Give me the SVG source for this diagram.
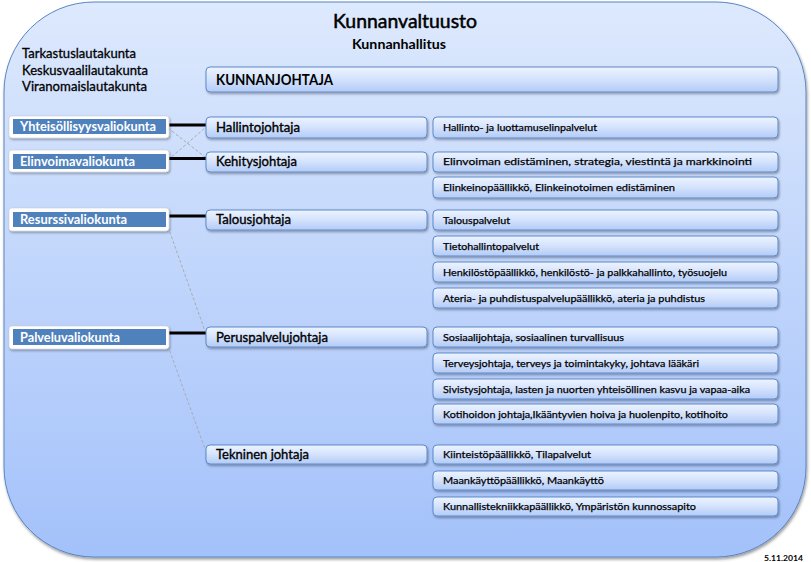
<svg xmlns="http://www.w3.org/2000/svg" width="811" height="562" viewBox="0 0 811 562">
<defs>
<linearGradient id="bg" x1="0" y1="0" x2="0" y2="1">
<stop offset="0" stop-color="#dde9fd"/>
<stop offset="1" stop-color="#a3c1fa"/>
</linearGradient>
<linearGradient id="box" x1="0" y1="0" x2="0" y2="1">
<stop offset="0" stop-color="#eef4ff"/>
<stop offset="0.5" stop-color="#d3e2fd"/>
<stop offset="1" stop-color="#b3cbf6"/>
</linearGradient>
<filter id="sh" x="-5%" y="-20%" width="115%" height="160%">
<feDropShadow dx="1" dy="1.5" stdDeviation="0.8" flood-color="#000" flood-opacity="0.35"/>
</filter>
<filter id="shbig" x="-2%" y="-2%" width="105%" height="105%">
<feDropShadow dx="1" dy="2" stdDeviation="1.5" flood-color="#000" flood-opacity="0.4"/>
</filter>
<style>
text{font-family:Lato,"Open Sans","Liberation Sans",sans-serif;fill:#000}
.b{fill:url(#box);stroke:#5f8ac8;stroke-width:1;filter:url(#sh)}
.svc{font-size:10px;stroke:#000;stroke-width:0.25}
.dir{font-size:13px;stroke:#000;stroke-width:0.35}
.lt{font-size:13px;stroke:#000;stroke-width:0.3}
.cw{fill:#fff;stroke:#c8cfd8;stroke-width:0.6;filter:url(#sh)}
.cb{fill:#4f81bd}
.ct{font-size:12.5px;font-weight:bold;fill:#fff}
.thick{stroke:#000;stroke-width:3;fill:none}
.dash{stroke:#a8acb2;stroke-width:1;stroke-dasharray:3 2;fill:none}
</style>
</defs>

<g id="kunnanvaltuusto">
<rect x="4" y="2" width="802" height="555" rx="90" ry="90" fill="url(#bg)" stroke="#5a85c3" stroke-width="1" filter="url(#shbig)"/>
<text x="405" y="28" text-anchor="middle" font-size="19" stroke="#000" stroke-width="0.5" textLength="144" lengthAdjust="spacingAndGlyphs">Kunnanvaltuusto</text>
<text x="399" y="49" text-anchor="middle" font-size="13.5" font-weight="bold" textLength="94" lengthAdjust="spacingAndGlyphs">Kunnanhallitus</text>
</g>

<g id="lautakunnat">
<text class="lt" x="22" y="58" textLength="114" lengthAdjust="spacingAndGlyphs">Tarkastuslautakunta</text>
<text class="lt" x="22" y="75" textLength="126" lengthAdjust="spacingAndGlyphs">Keskusvaalilautakunta</text>
<text class="lt" x="22" y="91" textLength="125" lengthAdjust="spacingAndGlyphs">Viranomaislautakunta</text>
</g>

<g id="connectors">
<line class="dash" x1="168" y1="128" x2="205" y2="157"/>
<line class="dash" x1="168" y1="160" x2="205" y2="128"/>
<line class="dash" x1="168" y1="227" x2="205" y2="331"/>
<line class="dash" x1="168" y1="346" x2="205" y2="449"/>
<line class="thick" x1="166" y1="125" x2="207" y2="125"/>
<line class="thick" x1="166" y1="158.5" x2="207" y2="158.5"/>
<line class="thick" x1="166" y1="216" x2="207" y2="216"/>
<line class="thick" x1="166" y1="333" x2="207" y2="333"/>
</g>

<g id="kunnanjohtaja">
<rect class="b" x="206" y="67" width="572" height="25" rx="4"/>
<text x="216" y="85" font-size="15" font-weight="bold" textLength="117" lengthAdjust="spacingAndGlyphs">KUNNANJOHTAJA</text>
</g>

<g id="yhteisollisyysvaliokunta">
<rect class="cw" x="9" y="116" width="160" height="22" rx="3"/>
<rect class="cb" x="13" y="119" width="153" height="15"/>
<text class="ct" x="20" y="131" textLength="136" lengthAdjust="spacingAndGlyphs">Yhteisöllisyysvaliokunta</text>
</g>
<g id="elinvoimavaliokunta">
<rect class="cw" x="9" y="150" width="160" height="22" rx="3"/>
<rect class="cb" x="13" y="154" width="153" height="15"/>
<text class="ct" x="20" y="166" textLength="115" lengthAdjust="spacingAndGlyphs">Elinvoimavaliokunta</text>
</g>
<g id="resurssivaliokunta">
<rect class="cw" x="9" y="208" width="160" height="23" rx="3"/>
<rect class="cb" x="13" y="212" width="153" height="15"/>
<text class="ct" x="20" y="224" textLength="107" lengthAdjust="spacingAndGlyphs">Resurssivaliokunta</text>
</g>
<g id="palveluvaliokunta">
<rect class="cw" x="9" y="326" width="160" height="23" rx="3"/>
<rect class="cb" x="13" y="329" width="153" height="16"/>
<text class="ct" x="20" y="342" textLength="100" lengthAdjust="spacingAndGlyphs">Palveluvaliokunta</text>
</g>

<g id="hallintojohtaja">
<rect class="b" x="206" y="117" width="221" height="21" rx="4"/>
<text class="dir" x="216" y="132" textLength="84" lengthAdjust="spacingAndGlyphs">Hallintojohtaja</text>
</g>
<g id="kehitysjohtaja">
<rect class="b" x="206" y="152" width="221" height="20" rx="4"/>
<text class="dir" x="216" y="166" textLength="81" lengthAdjust="spacingAndGlyphs">Kehitysjohtaja</text>
</g>
<g id="talousjohtaja">
<rect class="b" x="206" y="210" width="221" height="20" rx="4"/>
<text class="dir" x="216" y="224" textLength="75" lengthAdjust="spacingAndGlyphs">Talousjohtaja</text>
</g>
<g id="peruspalvelujohtaja">
<rect class="b" x="206" y="327" width="221" height="20" rx="4"/>
<text class="dir" x="216" y="342" textLength="112" lengthAdjust="spacingAndGlyphs">Peruspalvelujohtaja</text>
</g>
<g id="tekninen-johtaja">
<rect class="b" x="206" y="445" width="221" height="19" rx="4"/>
<text class="dir" x="216" y="459" textLength="93" lengthAdjust="spacingAndGlyphs">Tekninen johtaja</text>
</g>

<g id="s1"><rect class="b" x="433" y="117" width="345" height="21" rx="4"/><text class="svc" x="443" y="131" textLength="154" lengthAdjust="spacingAndGlyphs">Hallinto- ja luottamuselinpalvelut</text></g>
<g id="s2"><rect class="b" x="433" y="152" width="345" height="20" rx="4"/><text class="svc" x="443" y="165" textLength="309" lengthAdjust="spacingAndGlyphs">Elinvoiman edistäminen, strategia, viestintä ja markkinointi</text></g>
<g id="s3"><rect class="b" x="433" y="177" width="345" height="21" rx="4"/><text class="svc" x="443" y="191" textLength="232" lengthAdjust="spacingAndGlyphs">Elinkeinopäällikkö, Elinkeinotoimen edistäminen</text></g>
<g id="s4"><rect class="b" x="433" y="210" width="345" height="20" rx="4"/><text class="svc" x="443" y="224" textLength="67" lengthAdjust="spacingAndGlyphs">Talouspalvelut</text></g>
<g id="s5"><rect class="b" x="433" y="236" width="345" height="20" rx="4"/><text class="svc" x="443" y="250" textLength="96" lengthAdjust="spacingAndGlyphs">Tietohallintopalvelut</text></g>
<g id="s6"><rect class="b" x="433" y="262" width="345" height="20" rx="4"/><text class="svc" x="443" y="276" textLength="284" lengthAdjust="spacingAndGlyphs">Henkilöstöpäällikkö, henkilöstö- ja palkkahallinto, työsuojelu</text></g>
<g id="s7"><rect class="b" x="433" y="288" width="345" height="20" rx="4"/><text class="svc" x="443" y="302" textLength="262" lengthAdjust="spacingAndGlyphs">Ateria- ja puhdistuspalvelupäällikkö, ateria ja puhdistus</text></g>
<g id="s8"><rect class="b" x="433" y="327" width="345" height="20" rx="4"/><text class="svc" x="443" y="341" textLength="181" lengthAdjust="spacingAndGlyphs">Sosiaalijohtaja, sosiaalinen turvallisuus</text></g>
<g id="s9"><rect class="b" x="433" y="353" width="345" height="20" rx="4"/><text class="svc" x="443" y="367" textLength="256" lengthAdjust="spacingAndGlyphs">Terveysjohtaja, terveys ja toimintakyky, johtava lääkäri</text></g>
<g id="s10"><rect class="b" x="433" y="379" width="345" height="20" rx="4"/><text class="svc" x="443" y="393" textLength="307" lengthAdjust="spacingAndGlyphs">Sivistysjohtaja, lasten ja nuorten yhteisöllinen kasvu ja vapaa-aika</text></g>
<g id="s11"><rect class="b" x="433" y="404" width="345" height="20" rx="4"/><text class="svc" x="443" y="418" textLength="285" lengthAdjust="spacingAndGlyphs">Kotihoidon johtaja,Ikääntyvien hoiva ja huolenpito, kotihoito</text></g>
<g id="s12"><rect class="b" x="433" y="445" width="345" height="19" rx="4"/><text class="svc" x="443" y="458" textLength="148" lengthAdjust="spacingAndGlyphs">Kiinteistöpäällikkö, Tilapalvelut</text></g>
<g id="s13"><rect class="b" x="433" y="471" width="345" height="19" rx="4"/><text class="svc" x="443" y="484" textLength="161" lengthAdjust="spacingAndGlyphs">Maankäyttöpäällikkö, Maankäyttö</text></g>
<g id="s14"><rect class="b" x="433" y="497" width="345" height="19" rx="4"/><text class="svc" x="443" y="510" textLength="253" lengthAdjust="spacingAndGlyphs">Kunnallistekniikkapäällikkö, Ympäristön kunnossapito</text></g>

<text x="764" y="561" font-size="8" font-weight="bold" textLength="39" lengthAdjust="spacingAndGlyphs">5.11.2014</text>
</svg>
